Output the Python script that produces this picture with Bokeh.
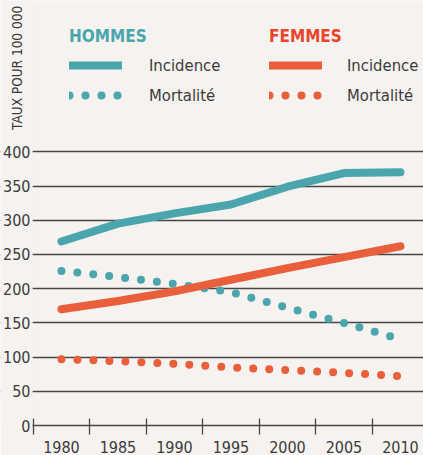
import math
from bokeh.plotting import figure
from bokeh.models import (Range1d, FixedTicker, Legend, LegendItem, Label,
                          BoxAnnotation)
from bokeh.embed import file_html
from bokeh.resources import INLINE

# ---- data ----
years = [1980, 1985, 1990, 1995, 2000, 2005, 2010]
hommes_incidence = [269, 295, 310, 323, 349, 369, 370]
hommes_mortalite = [226, 217, 207, 195, 172, 150, 126]
femmes_incidence = [170, 182, 196, 213, 230, 246, 262]
femmes_mortalite = [97, 94, 90, 85, 81, 77, 72]
year_ticks = [1980, 1985, 1990, 1995, 2000, 2005, 2010]
year_bounds = [1977.5, 1982.5, 1987.5, 1992.5, 1997.5, 2002.5, 2007.5]
y_ticks = [0, 50, 100, 150, 200, 250, 300, 350, 400]
grid_ticks = [50, 100, 150, 200, 250, 300, 350, 400]

TEAL = "#4aa5ad"
ORANGE = "#e95f3b"
RED = "#e8452c"
TEXT = "#3b3b3b"
BG = "#f5f2ef"
GRID = "#474747"
FONT = "DejaVu Sans Condensed, Roboto Condensed, Liberation Sans Narrow, Roboto"

X0, X1 = 1974.606, 2012.04
p = figure(width=423, height=455, output_backend="svg", toolbar_location=None,
           x_range=Range1d(X0, X1), y_range=Range1d(0, 621.2),
           min_border_left=0, min_border_right=0, min_border_top=0,
           min_border_bottom=29)
p.background_fill_color = BG
p.border_fill_color = BG
p.outline_line_color = None

# axes
p.yaxis.ticker = FixedTicker(ticks=y_ticks)
p.yaxis.axis_line_color = None
p.yaxis.major_tick_line_color = None
p.yaxis.minor_tick_line_color = None
p.yaxis.major_label_text_font = FONT
p.yaxis.major_label_text_font_size = "16px"
p.yaxis.major_label_text_color = TEXT
p.yaxis.major_label_standoff = -36

p.xaxis.ticker = FixedTicker(ticks=year_ticks, minor_ticks=year_bounds)
p.xaxis.bounds = (1977.45, X1)
p.xaxis.axis_line_color = GRID
p.xaxis.axis_line_width = 1.5
p.xaxis.major_tick_in = 0
p.xaxis.major_tick_out = 0
p.xaxis.minor_tick_in = 7
p.xaxis.minor_tick_out = 9
p.xaxis.minor_tick_line_color = GRID
p.xaxis.minor_tick_line_width = 1.3
p.xaxis.major_label_text_font = FONT
p.xaxis.major_label_text_font_size = "16px"
p.xaxis.major_label_text_color = TEXT
p.xaxis.major_label_standoff = 6

p.xgrid.grid_line_color = None
p.ygrid.ticker = FixedTicker(ticks=grid_ticks)
p.ygrid.grid_line_color = GRID
p.ygrid.grid_line_width = 1.3

# keep the strip left of the first year boundary free of grid lines
p.add_layout(BoxAnnotation(right=1977.45, fill_color=BG, fill_alpha=1.0,
                           line_color=None, level="underlay"))

# series
r_hm = p.line(years, hommes_mortalite, line_color=TEAL, line_width=8,
              line_dash="0 16", line_cap="round")
r_fm = p.line(years, femmes_mortalite, line_color=ORANGE, line_width=8,
              line_dash="0 16", line_cap="round")
r_hi = p.line(years, hommes_incidence, line_color=TEAL, line_width=8,
              line_cap="round", line_join="round")
r_fi = p.line(years, femmes_incidence, line_color=ORANGE, line_width=8,
              line_cap="round", line_join="round")


def make_legend(title, color, inc, mort, loc, standoff):
    lg = Legend(items=[LegendItem(label="Incidence", renderers=[inc]),
                       LegendItem(label="Mortalité", renderers=[mort])],
                title=title, location=loc, orientation="vertical")
    lg.title_text_font = FONT
    lg.title_text_font_style = "bold"
    lg.title_text_font_size = "17px"
    lg.title_text_color = color
    lg.title_standoff = 5
    lg.label_text_font = FONT
    lg.label_text_font_size = "16.5px"
    lg.label_text_color = TEXT
    lg.glyph_width = 53
    lg.glyph_height = 28
    lg.label_height = 28
    lg.label_standoff = standoff
    lg.spacing = 2
    lg.padding = 0
    lg.margin = 0
    lg.border_line_color = None
    lg.background_fill_alpha = 0
    return lg


p.add_layout(make_legend("HOMMES", TEAL, r_hi, r_hm, (69, 316), 27), "center")
p.add_layout(make_legend("FEMMES", RED, r_fi, r_fm, (269, 316), 25), "center")

ytitle = Label(x=1976.1, y=522.7, text="TAUX POUR 100 000", angle=math.pi / 2,
               text_align="center", text_baseline="middle",
               text_font=FONT, text_font_size="13.5px", text_color=TEXT)
p.add_layout(ytitle)

open("out.html", "w").write(file_html(p, INLINE))
